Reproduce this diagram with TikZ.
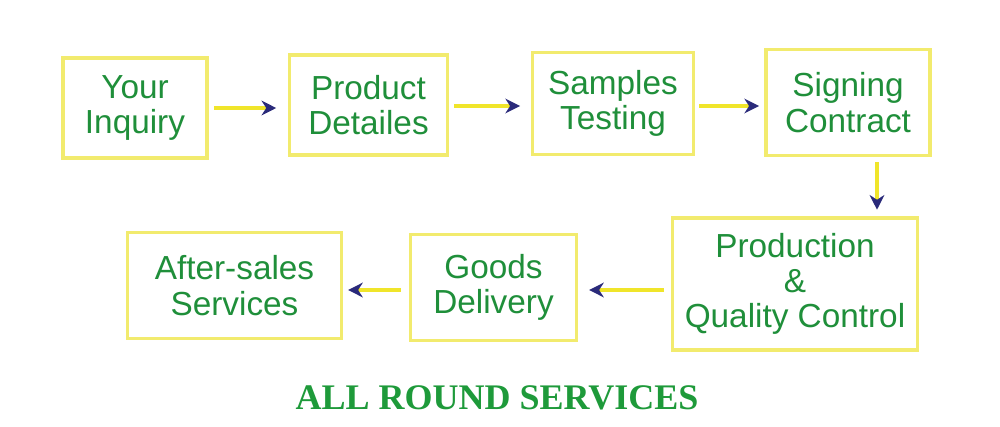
\documentclass[tikz,border=0pt]{standalone}
\usepackage{fontspec}
\setmainfont{Liberation Sans}
\newfontfamily\titlefont{Liberation Serif}
\usetikzlibrary{arrows.meta,positioning,calc}
\definecolor{boxjaune}{HTML}{F2EB6E}
\definecolor{textvert}{HTML}{1F8F3A}
\definecolor{titrevert}{HTML}{1E9A3A}
\definecolor{pointe}{HTML}{2A2A7A}
\definecolor{fleche}{HTML}{F0E52A}
\tikzset{
  etape/.style={rectangle, draw=boxjaune, line width=2.4pt, fill=white,
               align=center, text=textvert, font=\fontsize{25}{26.5}\selectfont, inner sep=0pt},
  arr/.style={-{Stealth[length=11pt, width=11pt, inset=3.5pt, pointe]}, line width=2.6pt, draw=fleche},
}
\begin{document}
\begin{tikzpicture}[x=0.75pt, y=-0.75pt]
     \useasboundingbox (0,0) rectangle (1000,426);
     \node[etape, minimum width=108pt, minimum height=75pt] (a) at (135,108){Your\\Inquiry};
     \node[etape, minimum width=118pt, minimum height=75pt] (b) at (368.5,105){Product\\Detailes};
     \node[etape, minimum width=121pt, minimum height=77pt] (c) at (613,103.5){Samples\\Testing};
     \node[etape, minimum width=123pt, minimum height=79pt] (d) at (848,102.5){Signing\\Contract};
     \node[etape, minimum width=184pt, minimum height=99pt] (e) at (795,284){Production\\\&\\Quality Control};
     \node[etape, minimum width=125pt, minimum height=79pt] (f) at (493.5,287.5){Goods\\Delivery};
     \node[etape, minimum width=160pt, minimum height=79pt] (g) at (234.5,285.5){After-sales\\Services};
     \node[text=titrevert, font=\titlefont\bfseries\fontsize{27}{30}\selectfont] (titre) at (497,398){ALL ROUND SERVICES};
     \draw[arr]([xshift=4pt]a.east|-0,108)--([xshift=-9pt]b.west|-0,108);
     \draw[arr]([xshift=4pt]b.east|-0,106)--([xshift=-8pt]c.west|-0,106);
     \draw[arr]([xshift=3pt]c.east|-0,106)--([xshift=-4pt]d.west|-0,106);
     \draw[arr]([yshift=-4pt]d.south-|877,0)--([yshift=5pt]e.north-|877,0);
     \draw[arr]([xshift=-5pt]e.west|-0,290)--([xshift=8pt]f.east|-0,290);
     \draw[arr]([xshift=-6pt]f.west|-0,290)--([xshift=4pt]g.east|-0,290);
   \end{tikzpicture}
\end{document}
